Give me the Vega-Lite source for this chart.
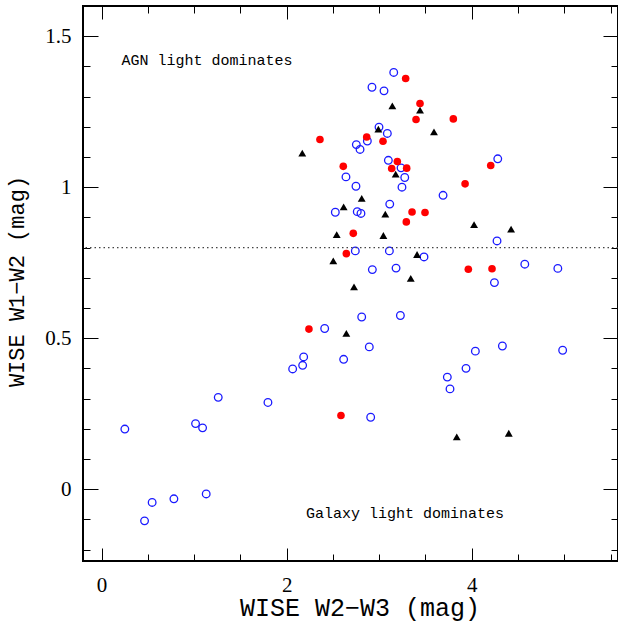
{
  "$schema": "https://vega.github.io/schema/vega-lite/v6.json",
  "width": 535,
  "height": 555,
  "autosize": "none",
  "padding": {"left": 83, "top": 6, "right": 0, "bottom": 62},
  "background": "white",
  "config": {
    "view": {"stroke": "black", "strokeWidth": 2},
    "axis": {"grid": false, "domain": false, "tickColor": "black", "tickWidth": 1, "labelColor": "black", "titleColor": "black", "labelFont": "Liberation Serif", "titleFont": "Liberation Mono", "labelFontSize": 21, "titleFontWeight": "normal"}
  },
  "datasets": {
    "open": [
      {"w23": 3.157, "w12": 1.380}, {"w23": 2.922, "w12": 1.331}, {"w23": 3.052, "w12": 1.319},
      {"w23": 2.998, "w12": 1.199}, {"w23": 3.088, "w12": 1.178}, {"w23": 2.753, "w12": 1.141},
      {"w23": 2.793, "w12": 1.125}, {"w23": 2.872, "w12": 1.153}, {"w23": 3.099, "w12": 1.089},
      {"w23": 3.236, "w12": 1.064}, {"w23": 3.276, "w12": 1.032}, {"w23": 3.246, "w12": 1.000},
      {"w23": 2.641, "w12": 1.034}, {"w23": 2.749, "w12": 1.003}, {"w23": 4.281, "w12": 1.094},
      {"w23": 3.690, "w12": 0.973}, {"w23": 3.114, "w12": 0.944}, {"w23": 2.526, "w12": 0.917},
      {"w23": 2.763, "w12": 0.919}, {"w23": 2.803, "w12": 0.913}, {"w23": 4.273, "w12": 0.822},
      {"w23": 2.742, "w12": 0.789}, {"w23": 3.110, "w12": 0.789}, {"w23": 3.484, "w12": 0.769},
      {"w23": 2.926, "w12": 0.727}, {"w23": 3.182, "w12": 0.732}, {"w23": 4.573, "w12": 0.745},
      {"w23": 4.930, "w12": 0.731}, {"w23": 4.245, "w12": 0.684}, {"w23": 2.811, "w12": 0.570},
      {"w23": 3.229, "w12": 0.575}, {"w23": 2.411, "w12": 0.532}, {"w23": 2.893, "w12": 0.471},
      {"w23": 4.039, "w12": 0.457}, {"w23": 4.331, "w12": 0.474}, {"w23": 4.982, "w12": 0.460},
      {"w23": 2.184, "w12": 0.438}, {"w23": 2.173, "w12": 0.410}, {"w23": 2.065, "w12": 0.398},
      {"w23": 2.616, "w12": 0.430}, {"w23": 1.261, "w12": 0.304}, {"w23": 1.798, "w12": 0.287},
      {"w23": 1.016, "w12": 0.217}, {"w23": 1.092, "w12": 0.203}, {"w23": 0.252, "w12": 0.199},
      {"w23": 2.908, "w12": 0.238}, {"w23": 1.131, "w12": -0.016}, {"w23": 0.782, "w12": -0.032},
      {"w23": 0.547, "w12": -0.044}, {"w23": 0.465, "w12": -0.105}, {"w23": 3.938, "w12": 0.400},
      {"w23": 3.736, "w12": 0.371}, {"w23": 3.765, "w12": 0.332}
    ],
    "red": [
      {"w23": 3.286, "w12": 1.360}, {"w23": 3.441, "w12": 1.277}, {"w23": 3.398, "w12": 1.224},
      {"w23": 3.801, "w12": 1.226}, {"w23": 2.360, "w12": 1.158}, {"w23": 2.865, "w12": 1.166},
      {"w23": 3.041, "w12": 1.152}, {"w23": 2.612, "w12": 1.069}, {"w23": 3.196, "w12": 1.085},
      {"w23": 3.135, "w12": 1.062}, {"w23": 3.297, "w12": 1.063}, {"w23": 4.205, "w12": 1.072},
      {"w23": 3.928, "w12": 1.011}, {"w23": 3.355, "w12": 0.918}, {"w23": 3.495, "w12": 0.916},
      {"w23": 3.293, "w12": 0.885}, {"w23": 2.720, "w12": 0.847}, {"w23": 2.645, "w12": 0.780},
      {"w23": 3.963, "w12": 0.728}, {"w23": 4.219, "w12": 0.730}, {"w23": 2.241, "w12": 0.530},
      {"w23": 2.587, "w12": 0.244}
    ],
    "tri": [
      {"w23": 3.142, "w12": 1.269}, {"w23": 3.441, "w12": 1.255}, {"w23": 3.592, "w12": 1.183},
      {"w23": 2.991, "w12": 1.192}, {"w23": 2.169, "w12": 1.113}, {"w23": 3.178, "w12": 1.043},
      {"w23": 2.811, "w12": 0.963}, {"w23": 2.616, "w12": 0.935}, {"w23": 3.066, "w12": 0.911},
      {"w23": 4.025, "w12": 0.876}, {"w23": 4.425, "w12": 0.861}, {"w23": 2.541, "w12": 0.843},
      {"w23": 3.045, "w12": 0.840}, {"w23": 3.409, "w12": 0.777}, {"w23": 2.504, "w12": 0.756},
      {"w23": 3.341, "w12": 0.698}, {"w23": 2.728, "w12": 0.670}, {"w23": 2.645, "w12": 0.516},
      {"w23": 3.838, "w12": 0.173}, {"w23": 4.400, "w12": 0.185}
    ],
    "notes": [
      {"w23": 0.216, "w12": 1.404, "label": "AGN light dominates"},
      {"w23": 2.209, "w12": -0.097, "label": "Galaxy light dominates"}
    ]
  },
  "resolve": {"axis": {"x": "independent", "y": "independent"}},
  "layer": [
    {
      "data": {"name": "open"},
      "mark": {"type": "point", "shape": "circle", "filled": false, "stroke": "#1a1aff", "strokeWidth": 1.3, "size": 58, "opacity": 1},
      "encoding": {
        "x": {"field": "w23", "type": "quantitative", "scale": {"domain": [-0.2, 5.58], "nice": false, "zero": false},
          "axis": {"orient": "bottom", "title": "WISE W2−W3 (mag)", "values": [0, 0.5, 1, 1.5, 2, 2.5, 3, 3.5, 4, 4.5, 5, 5.5], "format": "~g",
            "labelExpr": "datum.value % 2 === 0 ? datum.label : ''",
            "tickSize": {"condition": {"test": "datum.value % 2 === 0", "value": -13}, "value": -7},
            "labelPadding": 26, "titleFontSize": 25, "titleX": 276.5, "titleY": 54, "titleBaseline": "alphabetic", "titleAnchor": "middle", "titleAlign": "center"}},
        "y": {"field": "w12", "type": "quantitative", "scale": {"domain": [-0.238, 1.6], "nice": false, "zero": false},
          "axis": {"orient": "left", "title": "WISE W1−W2 (mag)", "values": [-0.2, -0.1, 0, 0.1, 0.2, 0.3, 0.4, 0.5, 0.6, 0.7, 0.8, 0.9, 1, 1.1, 1.2, 1.3, 1.4, 1.5], "format": "~g",
            "labelExpr": "abs(round(datum.value*10)) % 5 === 0 ? datum.label : ''",
            "tickSize": {"condition": {"test": "abs(round(datum.value*10)) % 5 === 0", "value": -15}, "value": -7},
            "labelPadding": 27, "titleFontSize": 22, "titleX": -67, "titleY": 275, "titleAngle": -90, "titleBaseline": "middle", "titleAlign": "center", "titleAnchor": "middle"}}
      }
    },
    {
      "data": {"name": "red"},
      "mark": {"type": "point", "shape": "circle", "filled": true, "fill": "#ff0000", "size": 58, "opacity": 1},
      "encoding": {
        "x": {"field": "w23", "type": "quantitative", "axis": null},
        "y": {"field": "w12", "type": "quantitative", "axis": null}
      }
    },
    {
      "data": {"name": "tri"},
      "mark": {"type": "point", "shape": "triangle-up", "filled": true, "fill": "black", "size": 62, "opacity": 1},
      "encoding": {
        "x": {"field": "w23", "type": "quantitative", "axis": null},
        "y": {"field": "w12", "type": "quantitative", "axis": null}
      }
    },
    {
      "data": {"values": [{"w12": 0.8}]},
      "mark": {"type": "rule", "color": "#444444", "strokeWidth": 1.3, "strokeDash": [1.5, 3]},
      "encoding": {
        "y": {"field": "w12", "type": "quantitative", "axis": null}
      }
    },
    {
      "data": {"name": "notes"},
      "mark": {"type": "text", "align": "left", "baseline": "alphabetic", "font": "Liberation Mono", "fontSize": 15, "color": "black"},
      "encoding": {
        "x": {"field": "w23", "type": "quantitative",
          "axis": {"orient": "top", "title": null, "labels": false, "values": [0, 0.5, 1, 1.5, 2, 2.5, 3, 3.5, 4, 4.5, 5, 5.5],
            "tickSize": {"condition": {"test": "datum.value % 2 === 0", "value": -13}, "value": -7}}},
        "y": {"field": "w12", "type": "quantitative",
          "axis": {"orient": "right", "title": null, "labels": false, "values": [-0.2, -0.1, 0, 0.1, 0.2, 0.3, 0.4, 0.5, 0.6, 0.7, 0.8, 0.9, 1, 1.1, 1.2, 1.3, 1.4, 1.5],
            "tickSize": {"condition": {"test": "abs(round(datum.value*10)) % 5 === 0", "value": -15}, "value": -7}}},
        "text": {"field": "label"}
      }
    }
  ]
}
